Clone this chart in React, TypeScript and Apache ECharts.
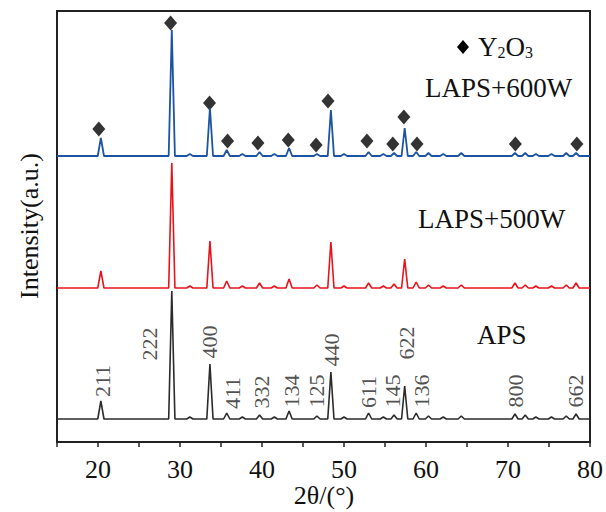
import React, { useEffect, useRef } from "react";
import * as echarts from "echarts";

// Peak positions (2θ, degrees)
const PEAK_POS = [20.35, 29.0, 31.2, 33.65, 35.7, 37.6, 39.7, 41.5, 43.3, 46.7, 48.4, 50.0, 53.0, 54.8, 56.1, 57.4, 58.8, 60.3, 62.1, 64.3, 70.85, 72.1, 73.4, 75.3, 77.1, 78.3];
// Peak heights above baseline (chart units)
const APS_H = [18, 128, 2, 55, 6, 2, 4, 2, 8, 3, 47, 2, 6, 2, 4, 33, 6, 3, 2, 3, 5, 4, 2, 2, 3, 5];
const LAPS500_H = [17, 125, 2, 47, 7, 2, 5, 2, 9, 3, 46, 2, 5, 2, 4, 29, 6, 3, 2, 3, 5, 3, 2, 2, 3, 5];
const LAPS600_H = [18, 126, 2, 48, 6, 2, 4, 2, 8, 2, 46, 2, 4, 2, 3, 28, 4, 3, 2, 3, 3, 3, 2, 2, 3, 3];
// Baselines (offsets of each pattern)
const APS_BASE = 23;
const LAPS500_BASE = 154;
const LAPS600_BASE = 286;

// Y2O3 diamond markers
const DIAMOND_X = [20.1, 28.85, 33.6, 35.8, 39.5, 43.2, 46.6, 48.05, 52.8, 55.95, 57.3, 58.9, 70.9, 78.4];
const DIAMOND_Y = [313, 419, 339, 301, 299, 302, 297, 341, 301, 298, 325, 298, 298, 298];

// hkl labels
const HKL_TEXT = ["211", "222", "400", "411", "332", "134", "125", "440", "611", "145", "622", "136", "800", "662"];
const HKL_X = [20.59, 26.3, 33.6, 36.4, 39.9, 43.55, 46.7, 48.5, 53.0, 55.95, 57.65, 59.45, 70.9, 78.2];
const HKL_Y = [61, 98, 100, 49, 50, 51, 51, 92, 50, 51, 99, 51, 51, 51];

const X_MIN = 15;
const X_MAX = 80;
const HALF_W = 0.38;

function buildPattern(base: number, heights: number[]): number[][] {
  const pts: number[][] = [[X_MIN, base]];
  PEAK_POS.forEach((p, i) => {
    pts.push([p - HALF_W, base]);
    pts.push([p, base + heights[i]]);
    pts.push([p + HALF_W, base]);
  });
  pts.push([X_MAX, base]);
  return pts;
}

const FONT = "'Liberation Serif', 'Times New Roman', serif";

export default function App() {
  const ref = useRef<HTMLDivElement>(null);
  useEffect(() => {
    if (!ref.current) return;
    const chart = echarts.init(ref.current, undefined, { renderer: "svg" });
    chart.setOption({
      animation: false,
      grid: {
        left: 57,
        right: 14,
        top: 11,
        bottom: 70,
        show: true,
        borderColor: "#222",
        borderWidth: 2,
      },
      xAxis: {
        type: "value",
        min: X_MIN,
        max: X_MAX,
        interval: 5,
        axisLine: { show: true, lineStyle: { color: "#222", width: 2 } },
        axisTick: { show: true, inside: false, length: 5, lineStyle: { color: "#222", width: 1.5 } },
        axisLabel: {
          margin: 14,
          fontFamily: FONT,
          fontSize: 26,
          color: "#111",
          formatter: (v: number) => (v % 10 === 0 ? String(v) : ""),
        },
        splitLine: { show: false },
      },
      yAxis: {
        type: "value",
        min: 0,
        max: 431,
        axisLine: { show: true, lineStyle: { color: "#222", width: 2 } },
        axisTick: { show: false },
        axisLabel: { show: false },
        splitLine: { show: false },
      },
      series: [
        {
          type: "line",
          data: buildPattern(APS_BASE, APS_H),
          symbol: "none",
          lineStyle: { color: "#2b2b2b", width: 1.6 },
        },
        {
          type: "line",
          data: buildPattern(LAPS500_BASE, LAPS500_H),
          symbol: "none",
          lineStyle: { color: "#e8121a", width: 1.6 },
        },
        {
          type: "line",
          data: buildPattern(LAPS600_BASE, LAPS600_H),
          symbol: "none",
          lineStyle: { color: "#1c54a3", width: 1.8 },
        },
        {
          type: "scatter",
          data: DIAMOND_X.map((x, i) => [x, DIAMOND_Y[i]]),
          symbol: "diamond",
          symbolSize: [13, 15],
          itemStyle: { color: "#000" },
        },
        {
          type: "scatter",
          data: HKL_X.map((x, i) => ({ value: [x, HKL_Y[i]], name: HKL_TEXT[i] })),
          symbolSize: 0,
          label: {
            show: true,
            position: "inside",
            rotate: 90,
            formatter: (p: any) => p.name,
            fontFamily: FONT,
            fontSize: 22,
            color: "#222",
          },
        },
      ],
      graphic: [
        {
          type: "polygon",
          shape: { points: [[463, 40], [469, 47], [463, 54], [457, 47]] },
          style: { fill: "#000" },
        },
        {
          type: "text",
          x: 478,
          y: 47,
          style: {
            text: "{b|Y}{s|2}{b|O}{s|3}",
            verticalAlign: "middle",
            rich: {
              b: { fontFamily: FONT, fontSize: 27, fill: "#111" },
              s: { fontFamily: FONT, fontSize: 16, fill: "#111", padding: [10, 0, 0, 0] },
            },
          },
        },
        {
          type: "text",
          x: 425,
          y: 88,
          style: { text: "LAPS+600W", fontFamily: FONT, fontSize: 27, fill: "#111", verticalAlign: "middle" },
        },
        {
          type: "text",
          x: 418,
          y: 219,
          style: { text: "LAPS+500W", fontFamily: FONT, fontSize: 27, fill: "#111", verticalAlign: "middle" },
        },
        {
          type: "text",
          x: 477,
          y: 335,
          style: { text: "APS", fontFamily: FONT, fontSize: 27, fill: "#111", verticalAlign: "middle" },
        },
        {
          type: "text",
          x: 324,
          y: 495,
          style: { text: "2θ/(°)", fontFamily: FONT, fontSize: 26, fill: "#111", align: "center", verticalAlign: "middle" },
        },
        {
          type: "text",
          x: 29,
          y: 226,
          rotation: Math.PI / 2,
          style: { text: "Intensity(a.u.)", fontFamily: FONT, fontSize: 26, fill: "#111", align: "center", verticalAlign: "middle" },
        },
      ],
    });
    return () => chart.dispose();
  }, []);
  return <div ref={ref} style={{ position: "absolute", left: 0, top: 0, width: 606, height: 512 }} />;
}
